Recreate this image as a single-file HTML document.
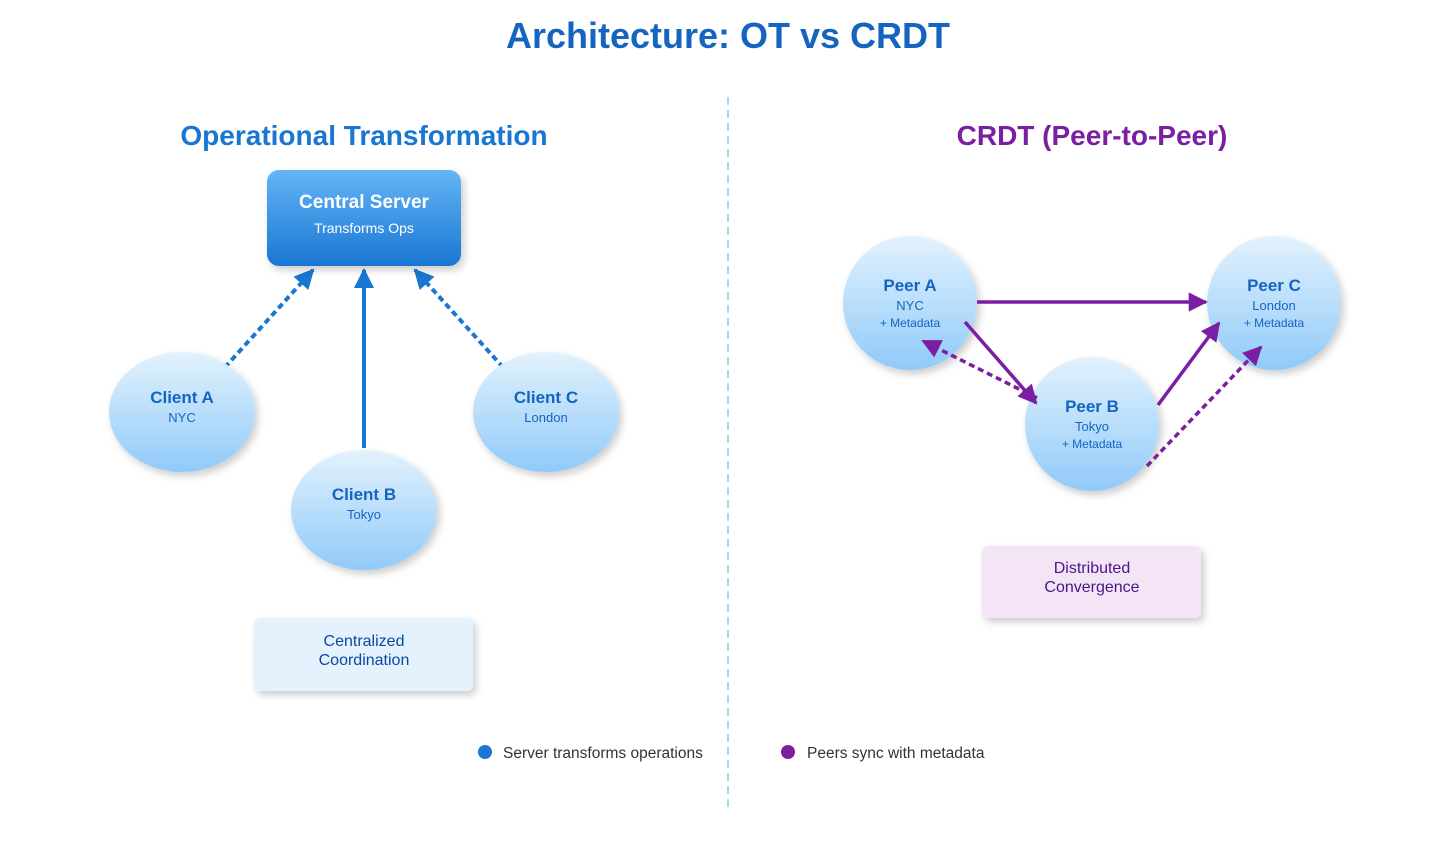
<!DOCTYPE html>
<html><head><meta charset="utf-8"><style>html,body{margin:0;padding:0;background:#fff}svg{display:block}text{font-family:"Liberation Sans",sans-serif}</style></head>
<body>
<svg width="1456" height="849" viewBox="0 0 1456 849" xmlns="http://www.w3.org/2000/svg">
<defs>
<linearGradient id="srv" x1="0" y1="0" x2="0" y2="1"><stop offset="0" stop-color="#64b5f6"/><stop offset="1" stop-color="#1976d2"/></linearGradient>
<linearGradient id="nd" x1="0" y1="0" x2="0" y2="1"><stop offset="0" stop-color="#e3f2fd"/><stop offset="1" stop-color="#90caf9"/></linearGradient>
<filter id="sh" x="-20%" y="-20%" width="150%" height="150%"><feDropShadow dx="3" dy="4" stdDeviation="4" flood-color="#000" flood-opacity="0.2"/></filter>
<marker id="ab" viewBox="0 0 10 10" refX="9" refY="5" markerWidth="5.5" markerHeight="5" orient="auto" markerUnits="strokeWidth"><path d="M0,0L10,5L0,10z" fill="#1976d2"/></marker>
<marker id="ap" viewBox="0 0 10 10" refX="9" refY="5" markerWidth="6.5" markerHeight="5.5" orient="auto" markerUnits="strokeWidth"><path d="M0,0L10,5L0,10z" fill="#7b1fa2"/></marker>
</defs>
<text x="728" y="48" text-anchor="middle" font-size="36" font-weight="bold" fill="#1565c0">Architecture: OT vs CRDT</text>
<line x1="728" y1="97" x2="728" y2="812" stroke="#a8d8ea" stroke-width="2" stroke-dasharray="8,5"/>
<text x="364" y="145" text-anchor="middle" font-size="28" font-weight="bold" fill="#1976d2">Operational Transformation</text>
<text x="1092" y="145" text-anchor="middle" font-size="28" font-weight="bold" fill="#7b1fa2">CRDT (Peer-to-Peer)</text>

<g stroke="#1976d2" stroke-width="4" fill="none">
<line x1="218" y1="375" x2="313" y2="270" stroke-dasharray="6,4" marker-end="url(#ab)"/>
<line x1="364" y1="448" x2="364" y2="270" marker-end="url(#ab)"/>
<line x1="510" y1="375" x2="415" y2="270" stroke-dasharray="6,4" marker-end="url(#ab)"/>
</g>
<rect x="267" y="170" width="194" height="96" rx="12" fill="url(#srv)" filter="url(#sh)"/>
<text x="364" y="208" text-anchor="middle" font-size="19" font-weight="bold" fill="#fff">Central Server</text>
<text x="364" y="233" text-anchor="middle" font-size="14" fill="#fff">Transforms Ops</text>

<g filter="url(#sh)" fill="url(#nd)">
<ellipse cx="182" cy="412" rx="73" ry="60"/>
<ellipse cx="364" cy="510" rx="73" ry="60"/>
<ellipse cx="546" cy="412" rx="73" ry="60"/>
</g>
<g text-anchor="middle" fill="#1565c0">
<text x="182" y="403" font-size="17" font-weight="bold">Client A</text><text x="182" y="422" font-size="13">NYC</text>
<text x="364" y="500" font-size="17" font-weight="bold">Client B</text><text x="364" y="519" font-size="13">Tokyo</text>
<text x="546" y="403" font-size="17" font-weight="bold">Client C</text><text x="546" y="422" font-size="13">London</text>
</g>
<rect x="254" y="618" width="219" height="73" rx="6" fill="#e3f2fd" filter="url(#sh)"/>
<text x="364" y="646" text-anchor="middle" font-size="16" fill="#0d47a1">Centralized</text>
<text x="364" y="665" text-anchor="middle" font-size="16" fill="#0d47a1">Coordination</text>

<g filter="url(#sh)" fill="url(#nd)">
<circle cx="910" cy="303" r="67"/>
<circle cx="1092" cy="424" r="67"/>
<circle cx="1274" cy="303" r="67"/>
</g>
<g stroke="#7b1fa2" stroke-width="3.5" fill="none">
<line x1="977" y1="302" x2="1206" y2="302" marker-end="url(#ap)"/>
<line x1="965" y1="322" x2="1036" y2="403" marker-end="url(#ap)"/>
<line x1="1037" y1="398" x2="923" y2="341" stroke-dasharray="6,4" marker-end="url(#ap)"/>
<line x1="1158" y1="405" x2="1219" y2="323" marker-end="url(#ap)"/>
<line x1="1147" y1="466" x2="1261" y2="347" stroke-dasharray="6,4" marker-end="url(#ap)"/>
</g>
<g text-anchor="middle" fill="#1565c0">
<text x="910" y="291" font-size="17" font-weight="bold">Peer A</text><text x="910" y="310" font-size="13">NYC</text><text x="910" y="327" font-size="12">+ Metadata</text>
<text x="1092" y="412" font-size="17" font-weight="bold">Peer B</text><text x="1092" y="431" font-size="13">Tokyo</text><text x="1092" y="448" font-size="12">+ Metadata</text>
<text x="1274" y="291" font-size="17" font-weight="bold">Peer C</text><text x="1274" y="310" font-size="13">London</text><text x="1274" y="327" font-size="12">+ Metadata</text>
</g>
<rect x="982" y="546" width="219" height="72" rx="6" fill="#f3e5f5" filter="url(#sh)"/>
<text x="1092" y="573" text-anchor="middle" font-size="16" fill="#4a148c">Distributed</text>
<text x="1092" y="592" text-anchor="middle" font-size="16" fill="#4a148c">Convergence</text>

<circle cx="485" cy="752" r="7" fill="#1976d2"/>
<text x="503" y="758" font-size="15.5" fill="#333">Server transforms operations</text>
<circle cx="788" cy="752" r="7" fill="#7b1fa2"/>
<text x="807" y="758" font-size="15.5" fill="#333">Peers sync with metadata</text>
</svg>
</body></html>
